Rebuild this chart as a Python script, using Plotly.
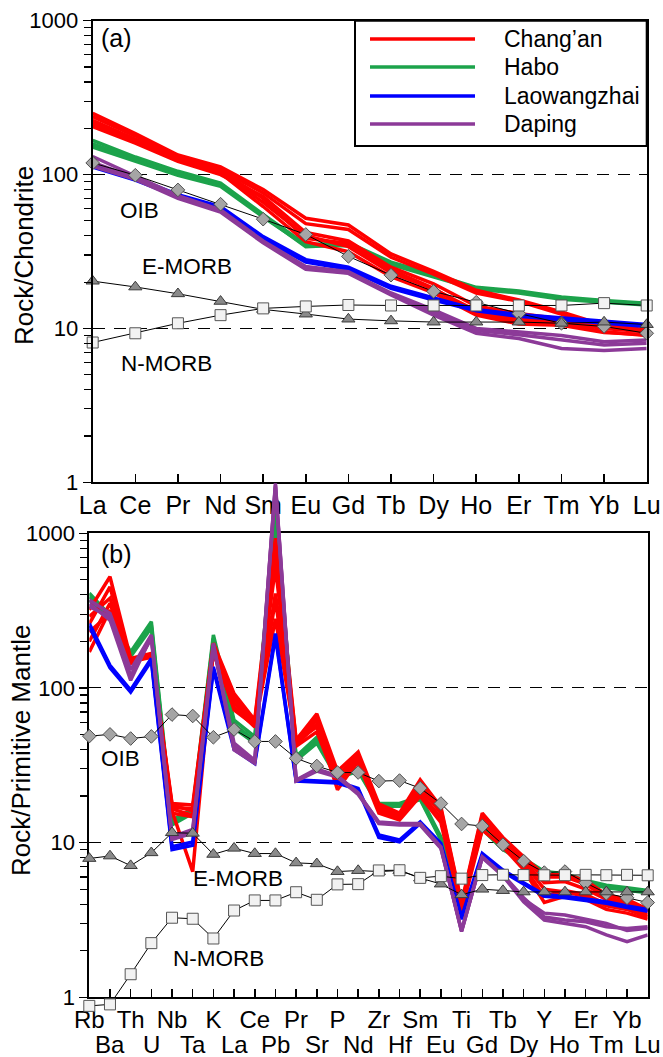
import numpy as np
import plotly.graph_objects as go

W, H = 663, 1057
FONT = "Liberation Sans, Arial, Helvetica, sans-serif"

# ---------------- data ----------------
ree = ["La", "Ce", "Pr", "Nd", "Sm", "Eu", "Gd", "Tb", "Dy", "Ho", "Er", "Tm", "Yb", "Lu"]
spider = ["Rb", "Ba", "Th", "U", "Nb", "Ta", "K", "La", "Ce", "Pb", "Pr", "Sr", "P", "Nd",
          "Zr", "Hf", "Sm", "Eu", "Ti", "Gd", "Tb", "Dy", "Y", "Ho", "Er", "Tm", "Yb", "Lu"]

# reference curves, chondrite-normalised
oib_ree = [119, 99, 79.5, 64.2, 51.3, 40.8, 29.4, 22.2, 17.4, 14.8, 12.5, 10.8, 10.3, 9.3]
emorb_ree = [20.3, 18.6, 16.8, 15.0, 13.3, 12.4, 11.5, 11.2, 11.0, 11.0, 11.0, 10.8, 11.0, 10.6]
nmorb_ree = [8.1, 9.3, 10.8, 12.2, 13.5, 13.9, 14.2, 14.1, 14.1, 14.1, 14.1, 14.1, 14.6, 14.1]

# reference curves, primitive-mantle-normalised
oib_pm = [48.8, 50.1, 47.1, 48.6, 67.3, 65.9, 48.0, 53.9, 45.1, 45.1, 35.1, 31.3, 28.4, 28.4,
          25.0, 25.2, 22.5, 17.9, 13.2, 12.8, 9.7, 7.6, 6.4, 6.5, 5.5, 4.7, 4.4, 4.1]
emorb_pm = [7.9, 8.2, 7.1, 8.6, 11.6, 11.5, 8.4, 9.2, 8.5, 8.5, 7.4, 7.3, 6.5, 6.6,
            6.5, 6.6, 5.9, 5.4, 4.6, 5.0, 4.9, 4.8, 4.8, 4.8, 4.8, 4.8, 4.8, 4.8]
nmorb_pm = [0.88, 0.90, 1.41, 2.24, 3.27, 3.22, 2.4, 3.64, 4.23, 4.23, 4.78, 4.27, 5.37, 5.39,
            6.61, 6.63, 5.92, 6.07, 5.85, 6.17, 6.20, 6.17, 6.15, 6.16, 6.19, 6.16, 6.19, 6.15]

# samples, panel (a) REE / chondrite
changan_ree = [
    [250, 185, 134, 112, 80, 52, 47, 30.5, 23.5, 17.7, 15.3, 12.8, 10.5, 9.8],
    [238, 178, 130, 108, 76, 48, 44, 29, 22.5, 17, 15, 12.3, 10.2, 9.6],
    [225, 170, 128, 106, 70, 38.5, 35.7, 24, 18.2, 12.5, 11, 10.8, 9.5, 9.0],
    [212, 163, 124, 102, 62, 36.6, 31.5, 21.7, 17, 12.2, 10.7, 10.5, 9.4, 9.1],
    [218, 166, 126, 104, 66, 40, 34, 23, 18, 13, 11.5, 11, 10, 9.5],
    [205, 160, 122, 100, 72, 42, 37, 25, 19.5, 14, 12.5, 11.5, 10.2, 9.7],
]
habo_ree = [
    [167, 130, 105, 88, 55, 35, 36, 27, 22.5, 18.5, 17.5, 16, 15.2, 14.6],
    [158, 126, 102, 86, 54, 34, 35, 26.5, 22, 18.3, 17.2, 15.7, 15, 14.4],
    [151, 122, 99, 84, 53, 34.5, 34.5, 26, 21.5, 18, 17, 15.5, 14.8, 14.2],
]
laowangzhai_ree = [
    [116, 95, 74, 62, 39.5, 28, 25, 18.8, 15.8, 13.3, 12.3, 11.7, 11.1, 10.6],
    [112, 92, 72, 60, 38, 27, 24.2, 18.2, 15.3, 13.0, 12.0, 11.4, 10.8, 10.3],
]
daping_ree = [
    [131, 98, 73, 59, 37, 25.3, 23.4, 17, 13.2, 10, 9.5, 9.0, 8.2, 8.4],
    [113, 93, 70, 57, 36, 24.2, 22.8, 16.5, 12.2, 9.3, 8.6, 7.4, 7.2, 7.4],
    [120, 95, 71, 58, 36.5, 24.7, 23, 16.8, 12.7, 9.7, 9.1, 8.4, 7.8, 8.0],
]

# samples, panel (b) trace elements / primitive mantle
changan_pm = [
    [320, 524, 155, 167, 17.9, 17.5, 195, 92, 62, 930, 46, 68, 29, 38.5, 17.8, 15.5, 25.5, 17, 4.1, 15.5, 10.8, 8.1, 6.2, 6.2, 5.7, 4.6, 4.3, 3.7],
    [260, 450, 150, 160, 17, 16.5, 185, 85, 60, 600, 44, 62, 26, 36, 17, 15, 23, 15.5, 3.9, 14.5, 10.3, 7.6, 5.5, 5.6, 5.0, 4.3, 4.0, 3.55],
    [200, 352, 146, 162, 16, 6.5, 175, 80, 58, 408, 43, 58, 22, 34, 16, 14.5, 21, 14.5, 3.7, 13.5, 9.8, 7.0, 4.5, 4.9, 4.6, 4.0, 3.8, 3.4],
    [171, 319, 148, 158, 15.5, 14.7, 168, 75, 56, 370, 42, 52, 24, 33, 15.5, 14, 20, 13.5, 3.6, 12.1, 9.4, 6.7, 4.1, 4.5, 4.3, 3.7, 3.5, 3.2],
    [230, 303, 144, 165, 16.5, 15, 180, 72, 57, 280, 45, 56, 25, 35, 16.5, 14.5, 22, 16, 3.8, 14, 10, 7.4, 5.0, 4.8, 4.5, 3.9, 3.7, 3.3],
    [290, 380, 152, 163, 17.5, 16, 190, 88, 61, 750, 46, 65, 27, 37, 17.2, 15, 24, 16.5, 4.0, 15, 10.5, 7.9, 6.0, 6.0, 5.4, 4.4, 4.1, 3.6],
]
habo_pm = [
    [410, 295, 171, 268, 14, 16.5, 220, 62, 48.5, 1400, 36, 48, 28, 30.2, 17.9, 17.9, 19.8, 10.9, 3.85, 12.7, 9.4, 7.9, 6.5, 6.3, 5.7, 5.3, 5.1, 4.9],
    [390, 285, 165, 255, 13.5, 16, 210, 58, 46, 1300, 35, 46, 27, 29.5, 17.5, 17.5, 19.3, 10.6, 3.9, 12.4, 9.2, 7.7, 6.4, 6.2, 5.6, 5.2, 5.0, 4.85],
    [370, 275, 160, 245, 13, 15.5, 205, 55, 44, 1200, 34, 44, 26, 29, 17.2, 17.2, 19, 10.4, 3.95, 12.2, 9.0, 7.5, 6.3, 6.1, 5.5, 5.1, 4.9, 4.75],
]
laowangzhai_pm = [
    [261, 140, 97, 155, 9.4, 10.1, 137, 42, 33.5, 225, 25.4, 25, 24.8, 22.4, 11.2, 10.4, 13.6, 9.9, 3.3, 8.5, 6.65, 5.5, 4.6, 4.5, 4.3, 4.15, 3.9, 3.7],
    [250, 135, 94, 150, 9.0, 9.6, 132, 40, 32.5, 215, 25, 24.5, 24.3, 22, 10.8, 10.1, 13.3, 9.6, 3.2, 8.3, 6.5, 5.4, 4.5, 4.4, 4.2, 4.05, 3.8, 3.6],
]
daping_pm = [
    [370, 303, 131, 220, 10.9, 12.2, 194, 39.7, 32.6, 2100, 25.4, 30, 27, 20.8, 13.6, 13.3, 13.3, 9.4, 2.66, 8.1, 6.2, 4.4, 3.3, 3.16, 3.08, 2.86, 2.79, 2.86],
    [335, 290, 120, 210, 10.5, 11.5, 185, 42, 33, 2000, 25, 29, 26.5, 20.5, 13.3, 13, 13, 9.2, 2.7, 8.0, 6.1, 4.15, 3.16, 3.0, 2.86, 2.53, 2.29, 2.53],
    [350, 275, 112, 215, 10.7, 11.8, 190, 44, 34, 2050, 25.2, 29.5, 26.8, 21, 13.4, 13.2, 13.1, 9.3, 2.68, 8.05, 6.15, 4.3, 3.5, 3.4, 3.2, 3.0, 2.7, 2.8],
]

groups = ["Chang\u2019an", "Habo", "Laowangzhai", "Daping"]
colors = {"Chang\u2019an": "#FF0000", "Habo": "#1CA34B", "Laowangzhai": "#0000FF", "Daping": "#8C3A98"}
ree_sets = {"Chang\u2019an": changan_ree, "Habo": habo_ree, "Laowangzhai": laowangzhai_ree, "Daping": daping_ree}
pm_sets = {"Chang\u2019an": changan_pm, "Habo": habo_pm, "Laowangzhai": laowangzhai_pm, "Daping": daping_pm}
draw_order = ["Habo", "Chang\u2019an", "Laowangzhai", "Daping"]

# ---------------- geometry (pixels) ----------------
def px(x):
    return x / W

def py(y):
    return 1 - y / H

A_L, A_R, A_T, A_B = 92.7, 646.7, 20.7, 482.3
B_L, B_R, B_T, B_B = 89.3, 647.7, 533.3, 997.3
EXT_TOP = 440.0  # overlay axis for panel (b) so tall spikes can run past the frame
dec_b = (B_B - B_T) / 3.0

fig = go.Figure()

xa = list(range(len(ree)))
xb = list(range(len(spider)))

for g in draw_order:
    for s in ree_sets[g]:
        fig.add_trace(go.Scatter(x=xa, y=s, mode="lines", line=dict(color=colors[g], width=3.5),
                                 xaxis="x", yaxis="y", showlegend=False, hoverinfo="skip"))
for g in draw_order:
    for s in pm_sets[g]:
        fig.add_trace(go.Scatter(x=xb, y=s, mode="lines", line=dict(color=colors[g], width=3.5),
                                 xaxis="x3", yaxis="y3", showlegend=False, hoverinfo="skip"))

ref_styles = [
    ("OIB", dict(symbol="diamond", size=10.5, color="#A5A5A5", line=dict(color="#505050", width=1))),
    ("E-MORB", dict(symbol="triangle-up", size=11.5, color="#8A8A8A", line=dict(color="#3A3A3A", width=1))),
    ("N-MORB", dict(symbol="square", size=11, color="#F2F2F2", line=dict(color="#555555", width=1))),
]
ref_ree = {"OIB": oib_ree, "E-MORB": emorb_ree, "N-MORB": nmorb_ree}
ref_pm = {"OIB": oib_pm, "E-MORB": emorb_pm, "N-MORB": nmorb_pm}
for name, mk in ref_styles:
    fig.add_trace(go.Scatter(x=xa, y=ref_ree[name], mode="lines+markers", line=dict(color="black", width=1),
                             marker=mk, cliponaxis=False, xaxis="x", yaxis="y", showlegend=False, hoverinfo="skip"))
for name, mk in ref_styles:
    fig.add_trace(go.Scatter(x=xb, y=ref_pm[name], mode="lines+markers", line=dict(color="black", width=1),
                             marker=mk, cliponaxis=False, xaxis="x3", yaxis="y3", showlegend=False, hoverinfo="skip"))

minor_vals = [m * 10 ** e for e in range(0, 3) for m in range(2, 10)]

def yaxis_common(domain):
    return dict(
        type="log", range=[0, 3], domain=domain, autorange=False,
        tickvals=[1, 10, 100, 1000], ticktext=["1", "10", "100", "1000"],
        ticks="outside", ticklen=8, tickwidth=1.5, tickcolor="black",
        showline=True, linewidth=2, linecolor="black", mirror=True,
        showgrid=True, gridcolor="black", gridwidth=1, griddash="12px,9px",
        zeroline=False, automargin=False,
        tickfont=dict(family=FONT, size=22, color="black"),
        minor=dict(tickvals=minor_vals, ticks="outside", ticklen=7, tickwidth=1.2,
                   tickcolor="black", showgrid=False),
    )

def xaxis_common(domain, n, labels, size):
    return dict(
        type="linear", range=[0, n - 1], domain=domain, autorange=False,
        tickvals=list(range(n)), ticktext=labels,
        ticks="inside", ticklen=8, tickwidth=1.5, tickcolor="black",
        showline=True, linewidth=2, linecolor="black", mirror=True,
        showgrid=False, zeroline=False, automargin=False,
        tickfont=dict(family=FONT, size=size, color="black"), tickangle=0,
    )

row1 = [lab if i % 2 == 0 else "" for i, lab in enumerate(spider)]

fig.update_layout(
    width=W, height=H, autosize=False,
    margin=dict(l=0, r=0, t=0, b=0, pad=0),
    paper_bgcolor="white", plot_bgcolor="rgba(0,0,0,0)",
    showlegend=False,
    font=dict(family=FONT, color="black"),
    xaxis=dict(**xaxis_common([px(A_L), px(A_R)], len(ree), ree, 25), anchor="y"),
    yaxis=dict(**yaxis_common([py(A_B), py(A_T)]), anchor="x"),
    xaxis2=dict(**xaxis_common([px(B_L), px(B_R)], len(spider), row1, 24), anchor="y2"),
    yaxis2=dict(**yaxis_common([py(B_B), py(B_T)]), anchor="x2"),
    xaxis3=dict(domain=[px(B_L), px(B_R)], range=[0, len(spider) - 1], visible=False,
                anchor="y3", autorange=False),
    yaxis3=dict(type="log", domain=[0, py(EXT_TOP)], autorange=False,
                range=[-(H - B_B) / dec_b, (B_B - EXT_TOP) / dec_b], visible=False, anchor="x3"),
)

ann = []
# second row of spider-diagram labels
for i, lab in enumerate(spider):
    if i % 2 == 1:
        ann.append(dict(x=i, xref="x2", y=py(1044), yref="paper", text=lab, showarrow=False,
                        xanchor="center", yanchor="middle", font=dict(family=FONT, size=24, color="black")))

# axis titles
ann.append(dict(x=px(24), y=py(256), xref="paper", yref="paper", text="Rock/Chondrite", textangle=-90,
                showarrow=False, xanchor="center", yanchor="middle", font=dict(family=FONT, size=26)))
ann.append(dict(x=px(21), y=py(751), xref="paper", yref="paper", text="Rock/Primitive Mantle", textangle=-90,
                showarrow=False, xanchor="center", yanchor="middle", font=dict(family=FONT, size=26)))

# panel letters and reference labels
ann.append(dict(x=0.15, y=2.888, xref="x", yref="y", text="(a)", showarrow=False, xanchor="left",
                yanchor="middle", font=dict(family=FONT, size=25)))
ann.append(dict(x=0.47, y=2.869, xref="x2", yref="y2", text="(b)", showarrow=False, xanchor="left",
                yanchor="middle", font=dict(family=FONT, size=25)))
for txt, xx, yy in [("OIB", 1.10, 1.769), ("E-MORB", 2.21, 1.401), ("N-MORB", 1.72, 0.775)]:
    ann.append(dict(x=xx, y=yy, xref="x", yref="y", text=txt, showarrow=False, xanchor="center",
                    yanchor="middle", font=dict(family=FONT, size=22.5)))
for txt, xx, yy in [("OIB", 1.53, 1.547), ("E-MORB", 7.19, 0.765), ("N-MORB", 6.25, 0.254)]:
    ann.append(dict(x=xx, y=yy, xref="x2", yref="y2", text=txt, showarrow=False, xanchor="center",
                    yanchor="middle", font=dict(family=FONT, size=22.5)))

# legend box (drawn manually to match the long line samples)
shapes = [dict(type="rect", xref="paper", yref="paper", x0=px(355), x1=px(A_R), y0=py(146), y1=py(A_T),
               line=dict(color="black", width=2), fillcolor="white", layer="above")]
leg_rows = [39, 67, 96, 124]
for g, yrow in zip(groups, leg_rows):
    shapes.append(dict(type="line", xref="paper", yref="paper", x0=px(370), x1=px(475), y0=py(yrow), y1=py(yrow),
                       line=dict(color=colors[g], width=3.5), layer="above"))
    ann.append(dict(x=px(502), y=py(yrow), xref="paper", yref="paper", text=g, showarrow=False,
                    xanchor="left", yanchor="middle", font=dict(family=FONT, size=23)))

fig.update_layout(annotations=ann, shapes=shapes)
fig.write_html("out.html", config={"displayModeBar": False, "staticPlot": True},
               post_script="document.body.style.margin='0';document.body.style.overflow='hidden';")
